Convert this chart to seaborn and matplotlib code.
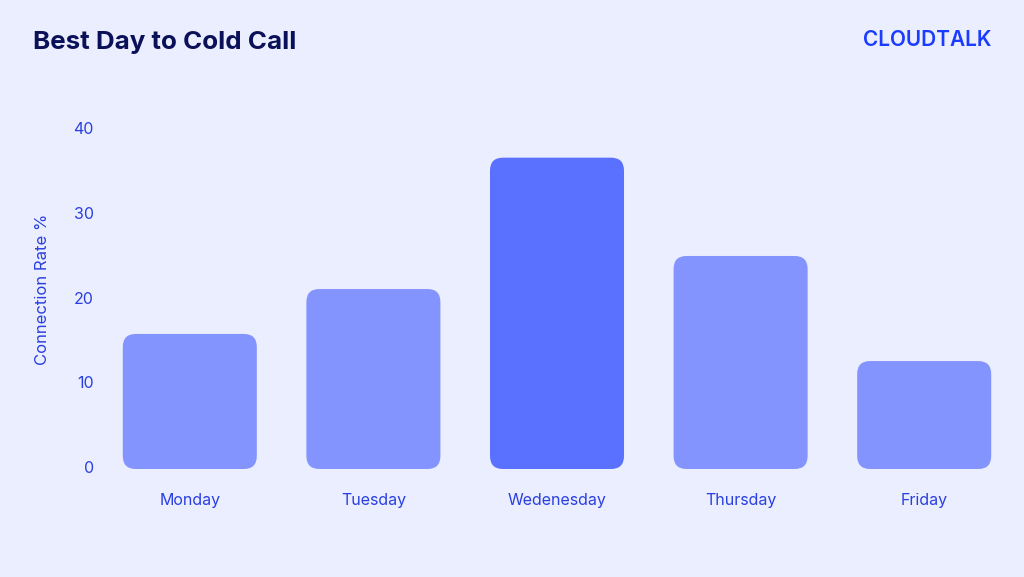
"""Best day to cold call - connection rate by weekday"""
import numpy as np
import pandas as pd
import seaborn as sns
from matplotlib import pyplot as plt
from matplotlib.patches import FancyBboxPatch

# %% Data
days = ["Monday", "Tuesday", "Wedenesday", "Thursday", "Friday"]
connection_rate = [15.7, 21.0, 36.5, 24.9, 12.5]
y_ticks = [0, 10, 20, 30, 40]

BG = "#EBEEFE"
LIGHT = "#8494FF"
DARK = "#5A70FF"
TEXT_BLUE = "#2A3FE0"
NAVY = "#0B1158"

# %% Plot
sns.set_theme(style="white")
plt.rcParams["font.family"] = ["Inter", "DejaVu Sans"]

df = pd.DataFrame({"day": days, "rate": connection_rate})
palette = [DARK if r == max(connection_rate) else LIGHT for r in connection_rate]

fig = plt.figure(figsize=(10.24, 5.77), dpi=100, facecolor=BG)
ax = fig.add_axes([98 / 1024, 1 - 467 / 577, 918 / 1024, 339 / 577])
ax.set_facecolor(BG)
sns.barplot(data=df, x="day", y="rate", hue="day", palette=palette, width=0.73,
            legend=False, ax=ax, saturation=1)
ax.set_xlim(-0.5, len(days) - 0.5)
ax.set_ylim(0, 40)

# swap the plain rectangles for rounded ones
fig.canvas.draw()
x_per_px = 1 / (ax.transData.transform((1, 0))[0] - ax.transData.transform((0, 0))[0])
y_per_px = 1 / (ax.transData.transform((0, 1))[1] - ax.transData.transform((0, 0))[1])
radius_px = 13
for patch in list(ax.patches):
    x, y = patch.get_x(), patch.get_y()
    w, h = patch.get_width(), patch.get_height()
    color = patch.get_facecolor()
    patch.remove()
    rounded = FancyBboxPatch(
        (x, y - 2 * y_per_px), w, h + 2 * y_per_px,
        boxstyle=f"round,pad=0,rounding_size={radius_px * x_per_px}",
        mutation_aspect=y_per_px / x_per_px,
        facecolor=color, edgecolor="none", clip_on=False,
    )
    ax.add_patch(rounded)

ax.set_yticks(y_ticks)
ax.tick_params(axis="both", length=0, labelsize=11.5, labelcolor=TEXT_BLUE)
ax.tick_params(axis="x", pad=19)
ax.tick_params(axis="y", pad=3)
ax.set_xlabel("")
ax.set_ylabel("Connection Rate %", color=TEXT_BLUE, fontsize=12)
ax.yaxis.set_label_coords(-0.052, 0.525)
sns.despine(ax=ax, left=True, bottom=True)

fig.text(33 / 1024, 1 - 42 / 577, "Best Day to Cold Call", fontsize=18.7, fontweight="bold",
         color=NAVY, va="center", ha="left")
fig.text(992 / 1024, 1 - 40 / 577, "CLOUDTALK", fontsize=15, fontweight="semibold",
         color="#1A3CFF", va="center", ha="right")

fig.savefig("out.png", dpi=100, facecolor=BG)
